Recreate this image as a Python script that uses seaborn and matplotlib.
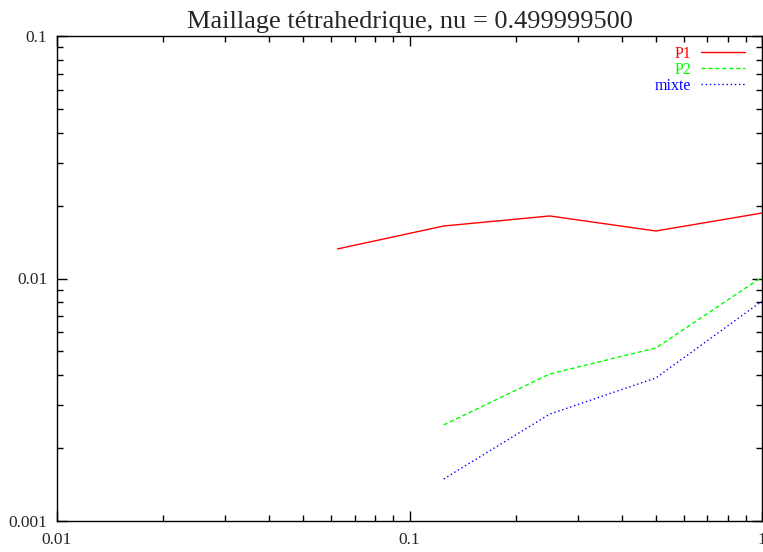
import matplotlib
matplotlib.use("Agg")
import matplotlib.pyplot as plt
import matplotlib.ticker as mticker
import seaborn as sns
import pandas as pd

h_p1 = [0.0625, 0.125, 0.25, 0.5, 1.0]
err_p1 = [0.01324, 0.01646, 0.01811, 0.01570, 0.01862]
h_p2 = [0.125, 0.25, 0.5, 1.0]
err_p2 = [0.00249, 0.00404, 0.00517, 0.01014]
h_mixte = [0.125, 0.25, 0.5, 1.0]
err_mixte = [0.00149, 0.00276, 0.00389, 0.00807]

x_ticks = [0.01, 0.1, 1]
x_labels = ["0.01", "0.1", "1"]
y_ticks = [0.001, 0.01, 0.1]
y_labels = ["0.001", "0.01", "0.1"]

df = pd.concat([
    pd.DataFrame({"h": h_p1, "err": err_p1, "serie": "P1"}),
    pd.DataFrame({"h": h_p2, "err": err_p2, "serie": "P2"}),
    pd.DataFrame({"h": h_mixte, "err": err_mixte, "serie": "mixte"}),
], ignore_index=True)

sns.set_style("ticks")
plt.rcParams["font.family"] = ["Liberation Serif", "DejaVu Serif"]

fig = plt.figure(figsize=(7.63, 5.52), dpi=100)
ax = fig.add_axes([57 / 763, 1 - 521 / 552, (762 - 57) / 763, (521 - 36) / 552])

palette = {"P1": "#ff0000", "P2": "#00ff00", "mixte": "#0000ff"}
dashes = {"P1": "", "P2": (3, 2), "mixte": (1, 2)}
sns.lineplot(data=df, x="h", y="err", hue="serie", style="serie",
             palette=palette, dashes=dashes, ax=ax, linewidth=1.0,
             estimator=None, sort=False)

ax.set_xscale("log")
ax.set_yscale("log")
ax.set_xlim(0.01, 1)
ax.set_ylim(0.001, 0.1)
ax.set_xticks(x_ticks)
ax.xaxis.set_major_formatter(mticker.FixedFormatter(x_labels))
ax.set_yticks(y_ticks)
ax.yaxis.set_major_formatter(mticker.FixedFormatter(y_labels))
ax.xaxis.set_minor_formatter(mticker.NullFormatter())
ax.yaxis.set_minor_formatter(mticker.NullFormatter())
ax.tick_params(which="both", direction="in", top=True, right=True, labelsize=12.5, color="black")
ax.tick_params(which="major", length=7, width=1)
ax.tick_params(which="minor", length=4, width=1)
ax.tick_params(axis="y", which="major", pad=7)
ax.tick_params(axis="x", which="major", pad=8)
for s in ax.spines.values():
    s.set_visible(True)
    s.set_linewidth(1.0)
    s.set_color("black")
ax.set_xlabel("")
ax.set_ylabel("")
ax.set_title("Maillage tétrahedrique, nu = 0.499999500", fontsize=19, pad=6)

handles, labels = ax.get_legend_handles_labels()
leg = ax.legend(handles, labels, loc="upper right", frameon=False, markerfirst=False,
                fontsize=11.5, handlelength=2.8, handletextpad=0.6, labelspacing=0.0,
                borderaxespad=0.2, bbox_to_anchor=(0.99, 1.0))
for t, l in zip(leg.get_texts(), labels):
    t.set_color(palette[l])

fig.savefig("out.png", dpi=100)
